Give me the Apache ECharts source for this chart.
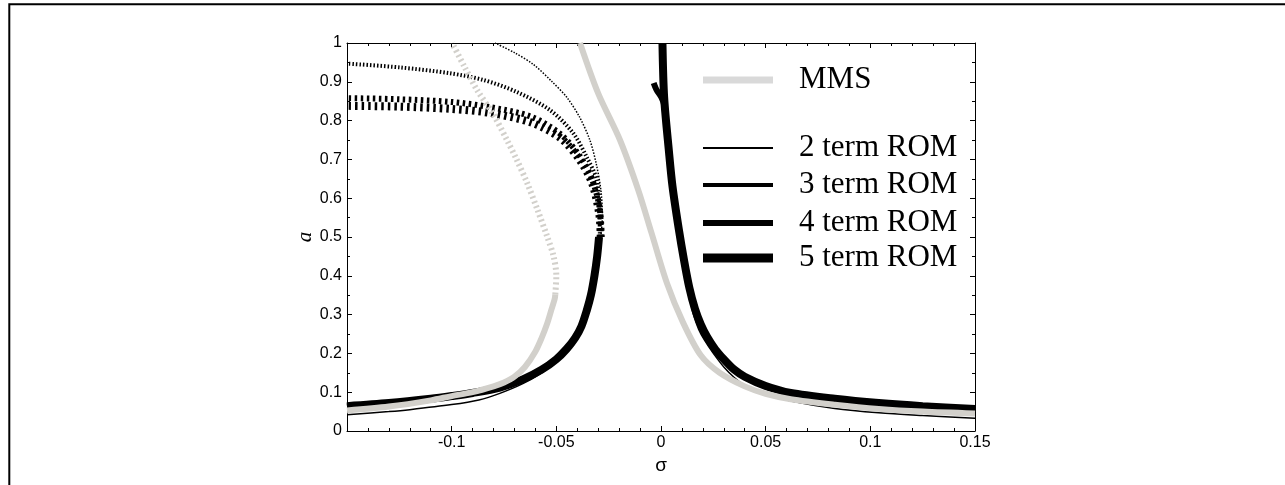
<!DOCTYPE html>
<html>
<head>
<meta charset="utf-8">
<script src="https://cdn.jsdelivr.net/npm/echarts@6/dist/echarts.min.js"></script>
<style>
  html, body { margin: 0; padding: 0; background: #fff; }
  #chart { width: 1285px; height: 485px; }
</style>
</head>
<body>
<div id="chart"></div>
<script>
// Axis ranges
const SIGMA_MIN = -0.15, SIGMA_MAX = 0.15, SIGMA_STEP = 0.05;
const A_MIN = 0, A_MAX = 1, A_STEP = 0.1;

// Legend labels
const seriesNames = ['MMS', '2 term ROM', '3 term ROM', '4 term ROM', '5 term ROM'];

// MMS response: [sigma, a]
const mmsStableLeft = [[-0.15, 0.053], [-0.13, 0.063], [-0.11, 0.079], [-0.1, 0.09], [-0.09, 0.10],
  [-0.08, 0.115], [-0.075, 0.125], [-0.07, 0.14], [-0.065, 0.165], [-0.06, 0.205], [-0.057, 0.24],
  [-0.0545, 0.275], [-0.0525, 0.31], [-0.0508, 0.34], [-0.0505, 0.352]];
const mmsUnstable = [[-0.0505, 0.352], [-0.0500, 0.40], [-0.0513, 0.45], [-0.0543, 0.50], [-0.059, 0.57],
  [-0.064, 0.64], [-0.069, 0.70], [-0.0736, 0.75], [-0.080, 0.815], [-0.088, 0.88], [-0.094, 0.94], [-0.0998, 1.0]];
const mmsStableRight = [[-0.0387, 1.0], [-0.030, 0.87], [-0.0196, 0.75], [-0.0108, 0.62], [-0.0045, 0.51],
  [0.0029, 0.38], [0.0105, 0.28], [0.019, 0.195], [0.028, 0.15], [0.040, 0.115], [0.05, 0.096],
  [0.062, 0.082], [0.083, 0.068], [0.104, 0.057], [0.125, 0.05], [0.15, 0.045]];

// 2 term ROM
const rom2StableLeft = [[-0.15, 0.042], [-0.13, 0.05], [-0.12, 0.055], [-0.1, 0.068], [-0.087, 0.08],
  [-0.077, 0.097], [-0.066, 0.122], [-0.057, 0.15], [-0.05, 0.178], [-0.045, 0.205], [-0.041, 0.233],
  [-0.038, 0.263], [-0.0355, 0.303], [-0.0335, 0.345], [-0.0318, 0.395], [-0.0303, 0.45], [-0.0288, 0.5]];
const rom2Unstable = [[-0.0288, 0.5], [-0.028, 0.55], [-0.0287, 0.62], [-0.031, 0.69], [-0.034, 0.75],
  [-0.039, 0.81], [-0.045, 0.86], [-0.052, 0.90], [-0.061, 0.945], [-0.070, 0.975], [-0.0793, 1.0]];
const rom2StableRight = [[0.0004, 1.0], [0.0011, 0.86], [0.0033, 0.72], [0.005, 0.63], [0.008, 0.52],
  [0.0105, 0.43], [0.013, 0.36], [0.0155, 0.30], [0.018, 0.262], [0.021, 0.232], [0.025, 0.2],
  [0.030, 0.165], [0.035, 0.138], [0.04, 0.118], [0.05, 0.095], [0.062, 0.077], [0.083, 0.058],
  [0.104, 0.047], [0.125, 0.04], [0.15, 0.033]];

// 3, 4 and 5 term ROM, stable branches
const romStableLeft = [[-0.15, 0.064], [-0.13, 0.072], [-0.11, 0.083], [-0.1, 0.09], [-0.09, 0.098],
  [-0.077, 0.112], [-0.066, 0.133], [-0.057, 0.158], [-0.05, 0.185], [-0.045, 0.212], [-0.041, 0.24],
  [-0.038, 0.27], [-0.0355, 0.31], [-0.0335, 0.35], [-0.0318, 0.40], [-0.0305, 0.45], [-0.0296, 0.5]];
const romStableRight = [[0.0007, 1.0], [0.0015, 0.86], [0.0038, 0.72], [0.0055, 0.63], [0.0085, 0.52],
  [0.011, 0.44], [0.0135, 0.37], [0.0162, 0.315], [0.019, 0.275], [0.022, 0.243], [0.026, 0.21],
  [0.030, 0.185], [0.035, 0.158], [0.040, 0.14], [0.05, 0.116], [0.062, 0.098], [0.083, 0.083],
  [0.104, 0.072], [0.125, 0.064], [0.15, 0.057]];
const rom4StableRight = [[-0.0035, 0.897], [-0.0022, 0.88], [0.0002, 0.86], [0.0015, 0.84], [0.0038, 0.72],
  [0.0055, 0.63], [0.0085, 0.52], [0.011, 0.44], [0.0135, 0.37], [0.0162, 0.315], [0.019, 0.275],
  [0.022, 0.243], [0.026, 0.21], [0.030, 0.185], [0.035, 0.158], [0.040, 0.14], [0.05, 0.116],
  [0.062, 0.098], [0.083, 0.083], [0.104, 0.072], [0.125, 0.064], [0.15, 0.057]];

// 3, 4 and 5 term ROM, unstable branches
const rom3Unstable = [[-0.0292, 0.50], [-0.0295, 0.58], [-0.0306, 0.647], [-0.0355, 0.706], [-0.042, 0.768],
  [-0.053, 0.827], [-0.069, 0.874], [-0.085, 0.905], [-0.1008, 0.922], [-0.1246, 0.937], [-0.15, 0.947]];
const rom4Unstable = [[-0.0288, 0.50], [-0.029, 0.56], [-0.033, 0.65], [-0.039, 0.71], [-0.048, 0.765],
  [-0.062, 0.81], [-0.082, 0.835], [-0.10, 0.848], [-0.125, 0.855], [-0.15, 0.858]];
const rom5Unstable = [[-0.0288, 0.50], [-0.0295, 0.56], [-0.033, 0.64], [-0.039, 0.70], [-0.048, 0.755],
  [-0.062, 0.795], [-0.082, 0.82], [-0.10, 0.83], [-0.125, 0.836], [-0.15, 0.838]];

const GRAY = '#d2d0cb';
const LEGEND_GRAY = '#d9d9d9';
const BLACK = '#000000';

function curve(name, data, color, width, dash) {
  return {
    type: 'line', name: name, data: data, smooth: 0.3,
    showSymbol: false, symbol: 'none', silent: true,
    color: color,
    itemStyle: { color: color },
    lineStyle: { color: color, width: width, type: dash || 'solid', cap: 'butt' }
  };
}

const series = [
  curve(seriesNames[1], rom2StableLeft, BLACK, 1.5),
  curve(seriesNames[1], rom2Unstable, BLACK, 1.5, [1.5, 1.5]),
  curve(seriesNames[1], rom2StableRight, BLACK, 1.5),
  curve(seriesNames[2], romStableLeft, BLACK, 4),
  curve(seriesNames[2], rom3Unstable, BLACK, 4, [1.5, 2]),
  curve(seriesNames[2], romStableRight, BLACK, 4),
  curve(seriesNames[3], romStableLeft, BLACK, 6),
  curve(seriesNames[3], rom4Unstable, BLACK, 6, [2.5, 3.5]),
  curve(seriesNames[3], rom4StableRight, BLACK, 6),
  curve(seriesNames[4], romStableLeft, BLACK, 8),
  curve(seriesNames[4], rom5Unstable, BLACK, 8, [2.5, 4]),
  curve(seriesNames[4], romStableRight, BLACK, 8),
  curve(seriesNames[0], mmsStableLeft, GRAY, 6),
  curve(seriesNames[0], mmsUnstable, GRAY, 6, [2, 3]),
  curve(seriesNames[0], mmsStableRight, GRAY, 6)
];

// one legend block per entry, each with its own line thickness
const legendCenters = [80, 148, 185, 223, 258];
const legendThickness = [7, 2, 4, 6, 9];
const legendTextDrop = [4, 10, 10, 10, 10];
const legendColors = [LEGEND_GRAY, BLACK, BLACK, BLACK, BLACK];
const legends = seriesNames.map((n, i) => ({
  data: [n], left: 703, top: legendCenters[i] - 16 - legendTextDrop[i] / 2, padding: 0,
  icon: 'rect', itemWidth: 70, itemHeight: legendThickness[i],
  selectedMode: false,
  itemStyle: { color: legendColors[i], borderWidth: 0 },
  textStyle: { fontFamily: 'Liberation Serif', fontSize: 31, lineHeight: 32, color: '#000',
               padding: [legendTextDrop[i], 0, 0, 21] }
}));

const tickLabelStyle = { color: '#000', fontFamily: 'Liberation Sans', fontSize: 16 };

function xAx(pos, labels) {
  return {
    type: 'value', position: pos, min: SIGMA_MIN, max: SIGMA_MAX, interval: SIGMA_STEP,
    axisLine: { show: true, onZero: false, lineStyle: { color: '#000', width: 1 } },
    axisTick: { show: true, inside: true, length: 5, lineStyle: { color: '#000' } },
    minorTick: { show: true, splitNumber: 5, length: 3, lineStyle: { color: '#000' } },
    splitLine: { show: false },
    axisLabel: Object.assign({ show: labels, margin: 4, showMinLabel: false }, tickLabelStyle),
    name: labels ? 'σ' : '', nameLocation: 'middle', nameGap: 21,
    nameTextStyle: { color: '#000', fontFamily: 'Liberation Sans', fontSize: 19 }
  };
}
function yAx(pos, labels) {
  return {
    type: 'value', position: pos, min: A_MIN, max: A_MAX, interval: A_STEP,
    axisLine: { show: true, onZero: false, lineStyle: { color: '#000', width: 1 } },
    axisTick: { show: true, inside: true, length: 5, lineStyle: { color: '#000' } },
    minorTick: { show: true, splitNumber: 2, length: 3, lineStyle: { color: '#000' } },
    splitLine: { show: false },
    axisLabel: Object.assign({ show: labels, margin: 5 }, tickLabelStyle),
    name: labels ? 'a' : '', nameLocation: 'middle', nameGap: 30, nameRotate: 90,
    nameTextStyle: { color: '#000', fontFamily: 'Liberation Serif', fontStyle: 'italic', fontSize: 21 }
  };
}

const chart = echarts.init(document.getElementById('chart'), null, { renderer: 'canvas' });
chart.setOption({
  animation: false,
  backgroundColor: '#fff',
  grid: { left: 347, right: 310, top: 43, bottom: 54, containLabel: false },
  xAxis: [xAx('bottom', true), xAx('top', false)],
  yAxis: [yAx('left', true), yAx('right', false)],
  legend: legends,
  series: series,
  graphic: [{
    type: 'rect', silent: true,
    shape: { x: 9.3, y: 4.3, width: 1400, height: 600 },
    style: { fill: 'none', stroke: '#000', lineWidth: 2 }
  }]
});
</script>
</body>
</html>
